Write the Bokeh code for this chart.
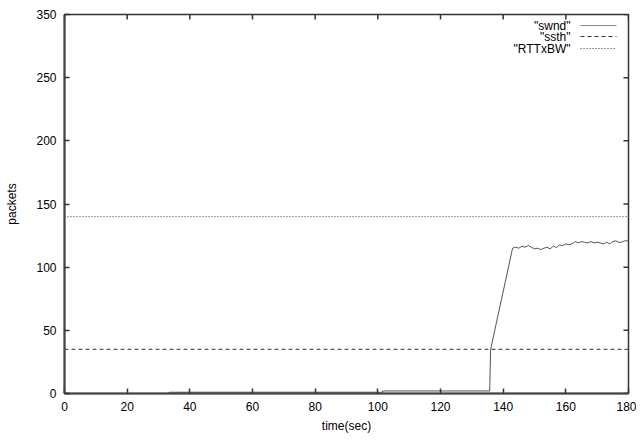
import math
from bokeh.plotting import figure
from bokeh.models import Range1d, FixedTicker, Label, Arrow
from bokeh.embed import file_html
from bokeh.resources import INLINE

# ---- data ----
swnd_time = [0, 33.4, 33.4, 101.5, 101.5, 135.7, 135.7, 136.0,
             143, 144, 145, 146, 147, 148, 149, 150, 151, 152, 153, 154, 155,
             156, 157, 158, 159, 160, 161, 162, 163, 164, 165, 166, 167, 168,
             169, 170, 171, 172, 173, 174, 175, 176, 177, 178, 179, 180]
swnd_value = [0, 0, 1, 1, 2, 2, 2, 35,
              115.0, 115.8, 115.0, 116.6, 115.8, 117.1, 115.8, 114.5, 115.0, 113.9, 115.0, 115.8, 114.5,
              116.6, 115.6, 117.6, 117.1, 118.4, 117.9, 118.4, 120.3, 119.2, 120.3, 119.7, 119.2, 120.3,
              119.2, 119.7, 119.2, 118.4, 119.7, 118.4, 120.3, 120.8, 119.5, 120.0, 121.0, 120.5]
ssth_time = [0, 180]
ssth_value = [35, 35]
rtt_time = [0, 180]
rtt_value = [140, 140]

series_names = ['"swnd"', '"ssth"', '"RTTxBW"']
x_ticks = [0, 20, 40, 60, 80, 100, 120, 140, 160, 180]
y_ticks = [0, 50, 100, 150, 200, 250, 300]
y_tick_labels = ["0", "50", "100", "150", "200", "250", "350"]

FONT = "Liberation Sans"
INK = "#333333"

p = figure(width=636, height=435, output_backend="svg", toolbar_location=None,
           x_range=Range1d(0, 180), y_range=Range1d(0, 300),
           min_border_left=64, min_border_right=8, min_border_top=14, min_border_bottom=42)
p.grid.visible = False
p.background_fill_color = "white"
p.border_fill_color = "white"
p.outline_line_color = INK
p.outline_line_width = 1.5

for ax in (p.xaxis[0], p.yaxis[0]):
    ax.axis_line_color = "#444444"
    ax.axis_line_width = 2
    ax.major_tick_in = 5
    ax.major_tick_out = 0
    ax.major_tick_line_color = INK
    ax.major_tick_line_width = 1.5
    ax.minor_tick_line_color = None
    ax.major_label_text_font = FONT
    ax.major_label_text_font_size = "12px"
    ax.major_label_text_color = "black"
    ax.axis_label_text_font = FONT
    ax.axis_label_text_font_size = "12px"
    ax.axis_label_text_font_style = "normal"
    ax.axis_label_text_color = "black"

p.xaxis.ticker = FixedTicker(ticks=x_ticks)
p.yaxis.ticker = FixedTicker(ticks=y_ticks)
p.yaxis.major_label_overrides = {t: l for t, l in zip(y_ticks, y_tick_labels)}
p.xaxis.axis_label = "time(sec)"
p.yaxis.axis_label = "packets"
p.xaxis.major_label_standoff = 8
p.xaxis.axis_label_standoff = 5
p.yaxis.major_label_standoff = 8
p.yaxis.axis_label_standoff = 14

# mirrored (inward) ticks on the top and right borders: dash markers centred
# on the frame edge, the outer half is clipped by the frame
x_top = [y_ticks[-1]] * len(x_ticks)
y_right = [x_ticks[-1]] * len(y_ticks)
p.scatter(x_ticks, x_top, marker="dash", angle=math.pi / 2, size=10,
          line_color=INK, line_width=1.5)
p.scatter(y_right, y_ticks, marker="dash", size=10, line_color=INK, line_width=1.5)

p.line(swnd_time, swnd_value, line_color="#555555", line_width=1)
p.line(ssth_time, ssth_value, line_color=INK, line_width=1, line_dash="4 3")
p.line(rtt_time, rtt_value, line_color=INK, line_width=1, line_dash="1 2")

# gnuplot-style key (text left of the sample)
key_y = [368, 357, 345]
key_styles = [("#888888", "solid"), (INK, "4 3"), (INK, "1 2")]
for name, y, (col, dash) in zip(series_names, key_y, key_styles):
    p.add_layout(Label(x=506, y=y, x_units="screen", y_units="screen", text=name,
                       text_align="right", text_baseline="middle",
                       text_font=FONT, text_font_size="12px", text_color="black"))
    p.add_layout(Arrow(x_start=516, y_start=y, x_end=552, y_end=y,
                       start_units="screen", end_units="screen", start=None, end=None,
                       line_color=col, line_width=1, line_dash=dash))

open("out.html", "w").write(file_html(p, INLINE))
